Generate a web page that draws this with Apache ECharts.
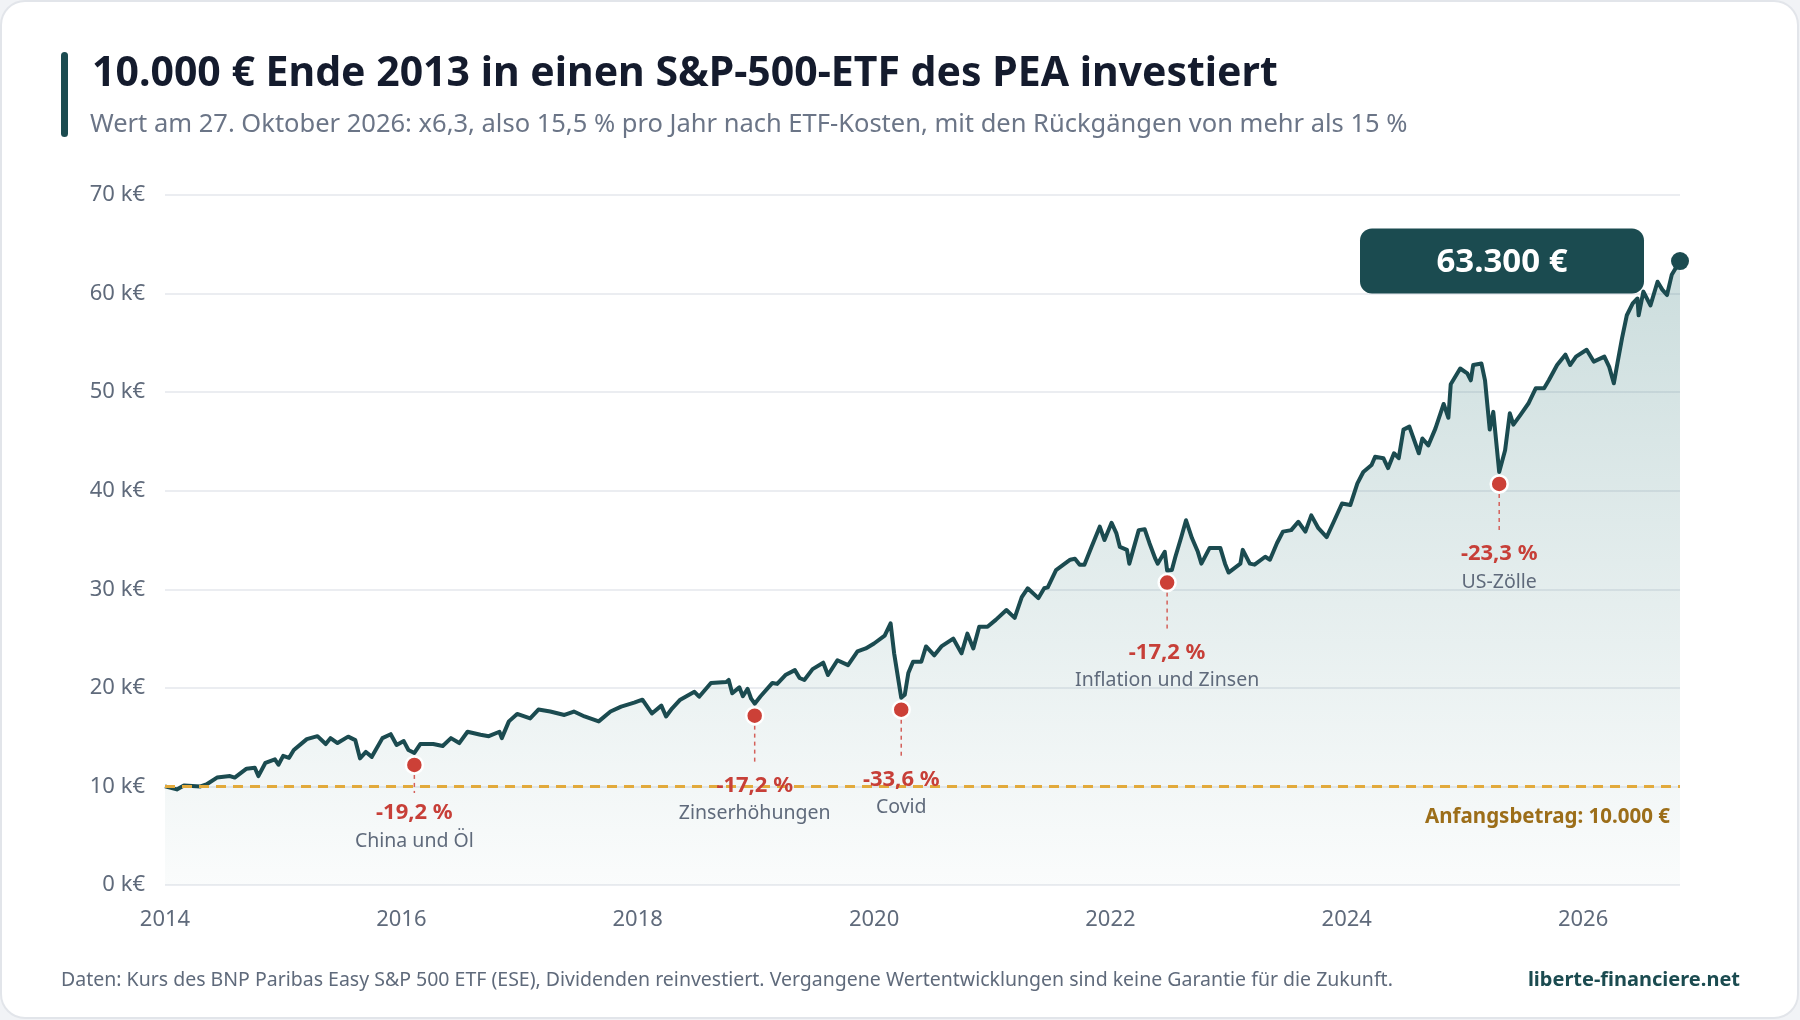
<!DOCTYPE html>
<html lang="de">
<head>
<meta charset="utf-8">
<title>10.000 € Ende 2013 in einen S&amp;P-500-ETF des PEA investiert</title>
<script src="https://cdn.jsdelivr.net/npm/echarts@6/dist/echarts.min.js"></script>
<style>
  html, body { margin: 0; padding: 0; background: #f1f3f6; }
  #chart { width: 1800px; height: 1020px; }
</style>
</head>
<body>
<div id="chart"></div>
<script>
const years = [
  2014.00, 2014.10, 2014.16, 2014.30, 2014.35, 2014.44, 2014.55, 2014.59, 2014.69, 2014.76, 2014.79, 2014.85, 2014.93, 2014.96,
  2015.00, 2015.05, 2015.09, 2015.20, 2015.29, 2015.36, 2015.40, 2015.46, 2015.55, 2015.61, 2015.65, 2015.70, 2015.75, 2015.84, 2015.91, 2015.96,
  2016.02, 2016.06, 2016.11, 2016.16, 2016.27, 2016.35, 2016.42, 2016.49, 2016.56, 2016.67, 2016.74, 2016.83, 2016.85, 2016.91, 2016.98,
  2017.09, 2017.16, 2017.26, 2017.38, 2017.46, 2017.55, 2017.67, 2017.77, 2017.86, 2017.97,
  2018.04, 2018.12, 2018.20, 2018.24, 2018.29, 2018.36, 2018.48, 2018.52, 2018.62, 2018.75, 2018.77, 2018.80, 2018.86, 2018.89, 2018.93, 2018.96, 2018.99,
  2019.04, 2019.14, 2019.18, 2019.25, 2019.33, 2019.37, 2019.41, 2019.48, 2019.57, 2019.61, 2019.69, 2019.78, 2019.86, 2019.93,
  2020.00, 2020.09, 2020.14, 2020.17, 2020.23, 2020.26, 2020.29, 2020.33, 2020.40, 2020.44, 2020.51, 2020.57, 2020.67, 2020.74, 2020.79, 2020.84, 2020.89, 2020.96,
  2021.03, 2021.12, 2021.19, 2021.25, 2021.30, 2021.39, 2021.44, 2021.47, 2021.54, 2021.66, 2021.70, 2021.74, 2021.78, 2021.84, 2021.91, 2021.95,
  2022.01, 2022.05, 2022.08, 2022.14, 2022.16, 2022.24, 2022.29, 2022.33, 2022.38, 2022.40, 2022.46, 2022.48, 2022.52, 2022.55, 2022.60, 2022.64, 2022.69, 2022.74, 2022.77, 2022.84, 2022.93, 2022.97,
  2023.00, 2023.10, 2023.12, 2023.18, 2023.22, 2023.31, 2023.35, 2023.41, 2023.46, 2023.53, 2023.59, 2023.65, 2023.70, 2023.76, 2023.83, 2023.89, 2023.96,
  2024.03, 2024.09, 2024.14, 2024.21, 2024.24, 2024.31, 2024.35, 2024.40, 2024.44, 2024.48, 2024.53, 2024.61, 2024.64, 2024.69, 2024.75, 2024.82, 2024.86, 2024.88, 2024.96,
  2025.02, 2025.05, 2025.07, 2025.14, 2025.17, 2025.21, 2025.24, 2025.29, 2025.34, 2025.38, 2025.41, 2025.47, 2025.54, 2025.60, 2025.67, 2025.71, 2025.78, 2025.85, 2025.89, 2025.94,
  2026.03, 2026.09, 2026.18, 2026.22, 2026.26, 2026.29, 2026.33, 2026.37, 2026.42, 2026.46, 2026.47, 2026.51, 2026.57, 2026.63, 2026.67, 2026.71, 2026.75, 2026.82
];
const values = [
  10.0, 9.7, 10.1, 10.0, 10.2, 10.9, 11.05, 10.9, 11.8, 11.9, 11.05, 12.4, 12.75, 12.2,
  13.1, 12.9, 13.7, 14.8, 15.1, 14.3, 14.9, 14.4, 15.05, 14.7, 12.85, 13.5, 13.0, 14.9, 15.3, 14.2,
  14.6, 13.7, 13.4, 14.3, 14.3, 14.1, 14.9, 14.4, 15.55, 15.25, 15.1, 15.55, 14.9, 16.6, 17.35,
  16.9, 17.8, 17.6, 17.25, 17.6, 17.1, 16.6, 17.6, 18.1, 18.5,
  18.8, 17.4, 18.2, 17.1, 17.9, 18.8, 19.6, 19.1, 20.5, 20.6, 20.8, 19.45, 20.05, 19.15, 19.9, 18.9, 18.4,
  19.15, 20.5, 20.4, 21.3, 21.8, 21.0, 20.8, 21.9, 22.55, 21.3, 22.8, 22.3, 23.7, 24.0,
  24.5, 25.3, 26.55, 23.5, 19.0, 19.3, 21.5, 22.65, 22.65, 24.2, 23.3, 24.2, 25.0, 23.5, 25.5, 24.0, 26.2, 26.2,
  26.9, 27.9, 27.1, 29.2, 30.1, 29.1, 30.1, 30.2, 31.95, 33.0, 33.1, 32.5, 32.5, 34.3, 36.35, 35.0,
  36.75, 35.7, 34.3, 34.0, 32.6, 36.0, 36.1, 34.7, 33.1, 32.6, 33.8, 31.9, 31.95, 33.3, 35.3, 37.0, 35.2, 33.8, 32.6, 34.2, 34.2, 32.6,
  31.7, 32.6, 34.0, 32.6, 32.5, 33.3, 33.0, 34.7, 35.85, 36.0, 36.85, 35.85, 37.5, 36.2, 35.3, 36.85, 38.7,
  38.55, 40.75, 41.9, 42.6, 43.45, 43.3, 42.3, 43.8, 43.3, 46.2, 46.5, 43.8, 45.3, 44.6, 46.3, 48.8, 47.4, 50.8, 52.4,
  51.9, 51.2, 52.75, 52.9, 51.2, 46.2, 48.0, 41.9, 44.1, 47.85, 46.7, 47.7, 48.9, 50.4, 50.4, 51.2, 52.75, 53.8, 52.75, 53.6,
  54.3, 53.1, 53.6, 52.6, 50.9, 52.9, 55.5, 57.8, 59.0, 59.5, 57.8, 60.2, 58.8, 61.2, 60.4, 59.85, 61.9, 63.3
];

// Rückgänge von mehr als 15 %
const dipYears = [2016.11, 2018.99, 2020.23, 2022.48, 2025.29];
const dipTroughs = [13.4, 18.4, 19.0, 31.9, 41.9];
const dipPct = ['-19,2 %', '-17,2 %', '-33,6 %', '-17,2 %', '-23,3 %'];
const dipCauses = ['China und Öl', 'Zinserhöhungen', 'Covid', 'Inflation und Zinsen', 'US-Zölle'];

const startAmount = 10; // k€
const yTicks = [0, 10, 20, 30, 40, 50, 60, 70];

const title = '10.000 € Ende 2013 in einen S&P-500-ETF des PEA investiert';
const subtitle = 'Wert am 27. Oktober 2026: x6,3, also 15,5 % pro Jahr nach ETF-Kosten, mit den Rückgängen von mehr als 15 %';
const source = 'Daten: Kurs des BNP Paribas Easy S&P 500 ETF (ESE), Dividenden reinvestiert. Vergangene Wertentwicklungen sind keine Garantie für die Zukunft.';
const brand = 'liberte-financiere.net';

const FONT = '"Noto Sans", "Open Sans", sans-serif';
const TEAL = '#1b4b50';
const RED = '#cc4037';
const GREY = '#5f6a7b';

const euro = v => Math.round(v * 1000).toLocaleString('de-DE') + ' €';

const lineData = years.map((y, i) => [y, values[i]]);
const dipData = dipYears.map((y, i) => [y, dipTroughs[i], i]);
const lastPoint = lineData[lineData.length - 1];

const chart = echarts.init(document.getElementById('chart'));

const option = {
  backgroundColor: 'transparent',
  animation: false,
  textStyle: { fontFamily: FONT },
  graphic: [
    {
      type: 'rect', z: -100, silent: true,
      shape: { x: 1, y: 1, width: 1797, height: 1017, r: 24 },
      style: { fill: '#ffffff', stroke: '#e2e5ea', lineWidth: 2 }
    },
    {
      type: 'rect', silent: true,
      shape: { x: 61, y: 52, width: 7, height: 85, r: 3.5 },
      style: { fill: TEAL }
    },
    {
      type: 'text', x: 92, y: 74, silent: true,
      style: { text: title, fill: '#141b2d', fontSize: 41, fontWeight: 'bold', fontFamily: FONT, verticalAlign: 'middle' }
    },
    {
      type: 'text', x: 90, y: 125, silent: true,
      style: { text: subtitle, fill: '#6b7587', fontSize: 25.5, fontFamily: FONT, verticalAlign: 'middle' }
    },
    {
      type: 'text', x: 61, y: 980, silent: true,
      style: { text: source, fill: GREY, fontSize: 19.5, fontFamily: FONT, verticalAlign: 'middle' }
    },
    {
      type: 'text', x: 1740, y: 980, silent: true,
      style: { text: brand, fill: TEAL, fontSize: 20, fontWeight: 'bold', fontFamily: FONT, align: 'right', verticalAlign: 'middle' }
    }
  ],
  grid: { left: 165, right: 120, top: 195, bottom: 135 },
  xAxis: {
    type: 'value',
    min: 2014,
    max: years[years.length - 1],
    interval: 2,
    axisLine: { show: false },
    axisTick: { show: false },
    splitLine: { show: false },
    axisLabel: {
      color: GREY, fontSize: 22, margin: 24, showMaxLabel: false,
      formatter: v => String(Math.round(v))
    }
  },
  yAxis: {
    type: 'value',
    min: yTicks[0],
    max: yTicks[yTicks.length - 1],
    interval: 10,
    axisLine: { show: false },
    axisTick: { show: false },
    splitLine: { lineStyle: { color: '#e4e7ec', width: 1.5 } },
    axisLabel: { color: GREY, fontSize: 22, margin: 20, formatter: v => v + ' k€' }
  },
  series: [
    {
      type: 'line',
      data: lineData,
      showSymbol: false,
      symbol: 'none',
      z: 3,
      lineStyle: { color: TEAL, width: 4, join: 'round' },
      areaStyle: {
        color: new echarts.graphic.LinearGradient(0, 0, 0, 1, [
          { offset: 0, color: 'rgba(27,105,105,0.32)' },
          { offset: 1, color: 'rgba(27,105,105,0.03)' }
        ])
      },
      markLine: {
        silent: true,
        symbol: 'none',
        data: [{ yAxis: startAmount }],
        lineStyle: { color: '#e2aa3c', type: [10, 7], width: 3 },
        label: {
          show: true,
          position: 'insideEndBottom',
          distance: [10, 20],
          formatter: 'Anfangsbetrag: ' + euro(startAmount),
          color: '#9c6e19',
          fontWeight: 'bold',
          fontSize: 20.5,
          fontFamily: FONT
        }
      }
    },
    {
      // Markierungen der Rückgänge
      type: 'custom',
      data: dipData,
      z: 5,
      silent: true,
      renderItem: (params, api) => {
        const i = api.value(2);
        const p = api.coord([api.value(0), api.value(1)]);
        const yBase = api.coord([api.value(0), 0])[1];
        const x = p[0];
        const dotY = p[1] + 12;
        const shift = Math.max(0, dotY + 98 - (yBase - 44));
        return {
          type: 'group',
          children: [
            {
              type: 'line',
              shape: { x1: x, y1: dotY + 10, x2: x, y2: dotY + 50 - shift },
              style: { stroke: '#d4605a', lineWidth: 1.5, lineDash: [4, 4] }
            },
            {
              type: 'circle',
              shape: { cx: x, cy: dotY, r: 8.5 },
              style: { fill: RED, stroke: '#ffffff', lineWidth: 2.5 }
            },
            {
              type: 'text',
              style: {
                x: x, y: dotY + 70 - shift, text: dipPct[i],
                fill: '#c73f38', fontSize: 22, fontWeight: 'bold', fontFamily: FONT,
                align: 'center', verticalAlign: 'middle'
              }
            },
            {
              type: 'text',
              style: {
                x: x, y: dotY + 98 - shift, text: dipCauses[i],
                fill: GREY, fontSize: 19.5, fontFamily: FONT,
                align: 'center', verticalAlign: 'middle'
              }
            }
          ]
        };
      }
    },
    {
      // Endwert
      type: 'custom',
      data: [lastPoint],
      z: 6,
      silent: true,
      renderItem: (params, api) => {
        const p = api.coord([api.value(0), api.value(1)]);
        const w = 284, h = 65;
        const right = p[0] - 36;
        return {
          type: 'group',
          children: [
            {
              type: 'rect',
              shape: { x: right - w, y: p[1] - h / 2, width: w, height: h, r: 12 },
              style: { fill: TEAL }
            },
            {
              type: 'text',
              style: {
                x: right - w / 2, y: p[1] + 2, text: euro(api.value(1)),
                fill: '#ffffff', fontSize: 33, fontWeight: 'bold', fontFamily: FONT,
                align: 'center', verticalAlign: 'middle'
              }
            },
            {
              type: 'circle',
              shape: { cx: p[0], cy: p[1], r: 9 },
              style: { fill: TEAL }
            }
          ]
        };
      }
    }
  ]
};

chart.setOption(option);
</script>
</body>
</html>
